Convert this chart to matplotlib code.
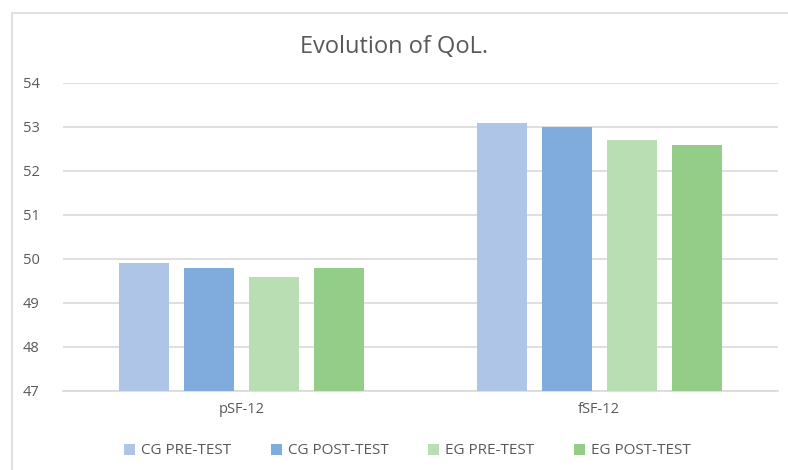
import matplotlib.pyplot as plt
import numpy as np
from matplotlib.patches import Rectangle

# data
categories = ["pSF-12", "fSF-12"]
series_names = ["CG PRE-TEST", "CG POST-TEST", "EG PRE-TEST", "EG POST-TEST"]
cg_pre = [49.9, 53.1]
cg_post = [49.8, 53.0]
eg_pre = [49.6, 52.7]
eg_post = [49.8, 52.6]
colors = ["#AFC5E8", "#7FABDD", "#B9DEB4", "#93CD87"]

plt.rcParams['font.family'] = ['Open Sans', 'DejaVu Sans']

fig = plt.figure(figsize=(7.88, 4.70), dpi=100)
ax = fig.add_axes([63 / 788, 1 - 391 / 470, 715 / 788, 308 / 470])

# chart frame like the spreadsheet export
fig.patches.append(Rectangle((12 / 788, -0.1), 1.0, 1 - 13 / 470 + 0.1,
                             transform=fig.transFigure, fill=False,
                             edgecolor="#D9D9D9", linewidth=1.2))

x = np.arange(len(categories))
width = 0.14
step = 0.182
all_series = [cg_pre, cg_post, eg_pre, eg_post]
for i, (vals, name, col) in enumerate(zip(all_series, series_names, colors)):
    offs = (i - 1.5) * step
    ax.bar(x + offs, np.array(vals) - 47, width, bottom=47, color=col,
           label=name, zorder=3)

ax.set_xlim(-0.5, 1.5)
ax.set_ylim(47, 54)
ax.set_yticks(range(47, 55))
ax.set_xticks(x)
ax.set_xticklabels(categories)
ax.grid(axis="y", color="#D9D9D9", linewidth=1.2, zorder=0)
for s in ["top", "right", "left"]:
    ax.spines[s].set_visible(False)
ax.spines["bottom"].set_color("#D9D9D9")
ax.spines["bottom"].set_linewidth(1.2)
ax.tick_params(axis="both", length=0, colors="#595959", labelsize=10.5)
ax.tick_params(axis="y", pad=17)
ax.tick_params(axis="x", pad=8)

fig.text(0.5, 1 - 47 / 470, "Evolution of QoL.", ha="center", va="center",
         fontsize=17, color="#595959")

fig.legend(loc="center", bbox_to_anchor=(0.517, 1 - 451 / 470), ncol=4,
           frameon=False, fontsize=11, labelcolor="#595959",
           handlelength=0.7, handleheight=0.7, handletextpad=0.4,
           columnspacing=2.6)

fig.savefig("out.png", dpi=100)
